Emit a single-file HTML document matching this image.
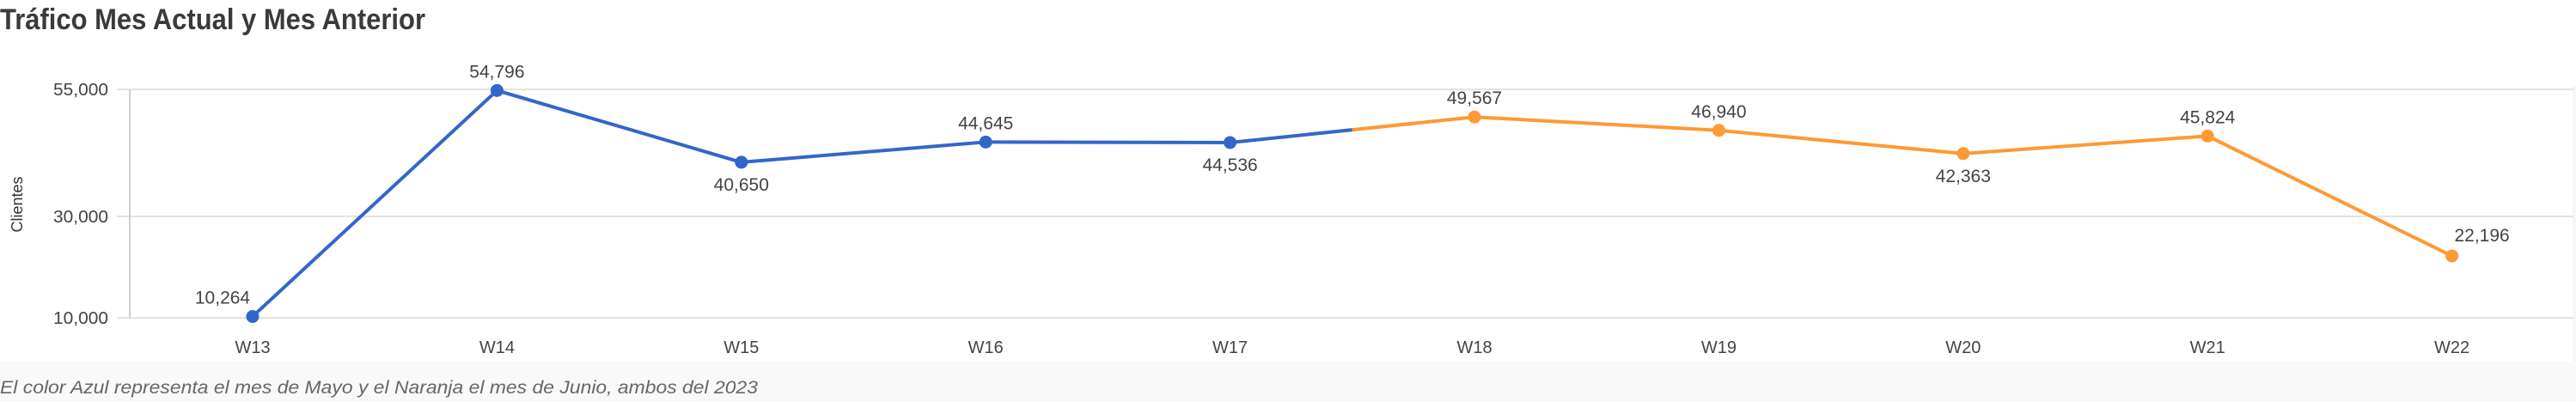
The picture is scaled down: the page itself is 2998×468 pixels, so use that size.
<!DOCTYPE html>
<html><head><meta charset="utf-8"><style>
html,body{margin:0;padding:0;background:#fff;}
svg{display:block;font-family:"Liberation Sans",sans-serif;}
</style></head><body>
<svg id="chart" width="2998" height="468" viewBox="0 0 2998 468">
<rect x="0" y="421" width="2998" height="47" fill="#f9f9f9"/>
<rect x="2994" y="100" width="4" height="321" fill="#f7f7f7"/>
<text x="0" y="34" font-size="34" font-weight="bold" fill="#3a3a3a" textLength="495" lengthAdjust="spacingAndGlyphs">Tráfico Mes Actual y Mes Anterior</text>
<text transform="translate(26,238) rotate(-90)" text-anchor="middle" font-size="18" fill="#333">Clientes</text>
<text x="0" y="458" font-size="21" font-style="italic" fill="#666" textLength="882" lengthAdjust="spacingAndGlyphs">El color Azul representa el mes de Mayo y el Naranja el mes de Junio, ambos del 2023</text>
<g id="grid"></g><g id="lines"></g><g id="points"></g><g id="labels"></g>
</svg>
<script>
const categories = ["W13","W14","W15","W16","W17","W18","W19","W20","W21","W22"];
const values = [10264,54796,40650,44645,44536,49567,46940,42363,45824,22196];
const valueLabels = ["10,264","54,796","40,650","44,645","44,536","49,567","46,940","42,363","45,824","22,196"];
const labelSide = ["left","above","below","above","below","above","above","below","above","right"];
const yTicks = [10000,30000,55000];
const yTickLabels = ["10,000","30,000","55,000"];
const mayCount = 5;

const NS="http://www.w3.org/2000/svg";
const x0=151.8, step=284.4;
function xs(i){return x0+step*(i+0.5);}
function ys(v){return 370-(v-10000)*0.005908;}
function mk(tag,attrs,parent){const e=document.createElementNS(NS,tag);for(const k in attrs)e.setAttribute(k,attrs[k]);document.getElementById(parent).appendChild(e);return e;}

yTicks.forEach((t,i)=>{
  const y=ys(t);
  const g=mk("line",{x1:136,x2:2995,y1:y,y2:y,stroke:"#e2e2e2","stroke-width":2},"grid");
  
  
  const tl=mk("text",{x:126,y:y+7,"text-anchor":"end","font-size":20,fill:"#444",textLength:64,lengthAdjust:"spacingAndGlyphs"},"grid");
  tl.textContent=yTickLabels[i];
  
  
});
const ax=mk("line",{x1:151,x2:151,y1:ys(yTicks[yTicks.length-1]),y2:ys(yTicks[0]),stroke:"#cfcfcf","stroke-width":2},"grid");



categories.forEach((c,i)=>{
  const t=mk("text",{x:xs(i),y:411,"text-anchor":"middle","font-size":20,fill:"#444"},"grid");
  t.textContent=c;
  
  
});

const blue="#3366cc", orange="#ff9933";
for(let i=0;i<values.length-1;i++){
  const xa=xs(i),ya=ys(values[i]),xb=xs(i+1),yb=ys(values[i+1]);
  if(i===mayCount-1){
    const xm=(xa+xb)/2,ym=(ya+yb)/2;
    const l1=mk("line",{x1:xa,y1:ya,x2:xm,y2:ym,stroke:blue,"stroke-width":4},"lines");
    
    
    const l2=mk("line",{x1:xm,y1:ym,x2:xb,y2:yb,stroke:orange,"stroke-width":4},"lines");
    
    
  } else {
    const l=mk("line",{x1:xa,y1:ya,x2:xb,y2:yb,stroke:i<mayCount?blue:orange,"stroke-width":4},"lines");
    
    
  }
}
values.forEach((v,i)=>{
  const x=xs(i),y=ys(v);
  const p=mk("circle",{cx:x,cy:y,r:7.5,fill:i<mayCount?blue:orange},"points");
  
  
  let lx=x,ly=y-15;
  const s=labelSide[i];
  if(s==="below")ly=y+33;
  if(s==="left"){lx=x-35;ly=y-15;}
  if(s==="right"){lx=x+35;ly=y-17;}
  const t=mk("text",{x:lx,y:ly,"text-anchor":"middle","font-size":21,fill:"#444"},"labels");
  t.textContent=valueLabels[i];
  
  
});
</script>
</body></html>
